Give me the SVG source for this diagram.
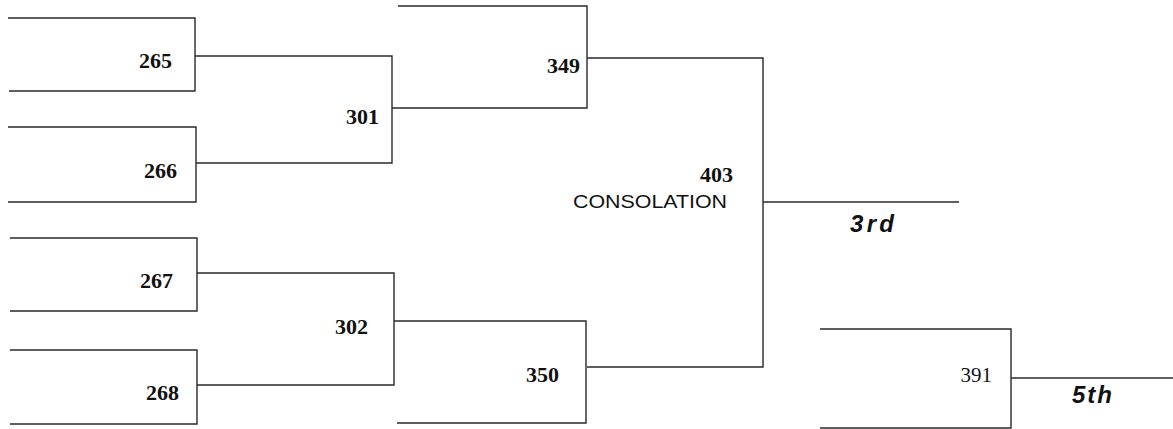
<svg xmlns="http://www.w3.org/2000/svg" width="1173" height="429" viewBox="0 0 1173 429">
<style>
.ln{fill:none;stroke:#2a2a2a;stroke-width:1.4}
.num{font-family:"Liberation Serif",serif;font-weight:bold;font-size:22px;fill:#111;text-anchor:end}
.num2{font-family:"Liberation Serif",serif;font-size:21px;fill:#111;text-anchor:end}
.cap{font-family:"Liberation Sans",sans-serif;font-size:18px;fill:#111}
.place{font-family:"Liberation Sans",sans-serif;font-weight:bold;font-style:italic;font-size:24px;fill:#111}
</style>
<rect width="1173" height="429" fill="#fff"/>
<g id="connectors">
<path class="ln" d="M8,18 H195 V91 H9"/>
<path class="ln" d="M8,127 H196 V202 H8"/>
<path class="ln" d="M195,56 H392 V163 H196"/>
<path class="ln" d="M398,6 H587 V108 H392"/>
<path class="ln" d="M587,58 H763 V367 H587"/>
<path class="ln" d="M763,202 H959"/>
<path class="ln" d="M10,238 H197 V311 H10"/>
<path class="ln" d="M10,350 H197 V424 H10"/>
<path class="ln" d="M197,273 H394 V385 H197"/>
<path class="ln" d="M394,321 H586 V423 H397"/>
<path class="ln" d="M820,329 H1011 V428 H820"/>
<path class="ln" d="M1011,378 H1173"/>
</g>
<g id="n265"><text class="num" x="172" y="68">265</text></g>
<g id="n266"><text class="num" x="177" y="178">266</text></g>
<g id="n267"><text class="num" x="173" y="288">267</text></g>
<g id="n268"><text class="num" x="179" y="400">268</text></g>
<g id="n301"><text class="num" x="379" y="124">301</text></g>
<g id="n302"><text class="num" x="368" y="334">302</text></g>
<g id="n349"><text class="num" x="580" y="73">349</text></g>
<g id="n350"><text class="num" x="559" y="382">350</text></g>
<g id="n403">
<text class="num" x="733" y="182">403</text>
<text class="cap" x="573" y="208" textLength="154" lengthAdjust="spacingAndGlyphs">CONSOLATION</text>
</g>
<g id="n3rd"><text class="place" x="850" y="232" textLength="44" lengthAdjust="spacing">3rd</text></g>
<g id="n391"><text class="num2" x="992" y="382">391</text></g>
<g id="n5th"><text class="place" x="1072" y="403" textLength="40" lengthAdjust="spacing">5th</text></g>
</svg>
